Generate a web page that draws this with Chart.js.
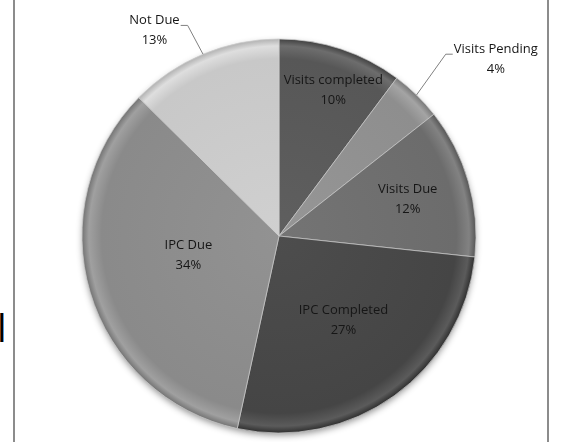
<!DOCTYPE html>
<html>
<head>
<meta charset="utf-8">
<script src="https://cdn.jsdelivr.net/npm/chart.js@4.4.0/dist/chart.umd.min.js"></script>
<style>
  html, body { margin: 0; padding: 0; background: #fff; }
  body { width: 563px; height: 442px; position: relative; overflow: hidden; font-family: "Open Sans", sans-serif; }
  #frame { position: absolute; left: 13px; top: -10px; width: 532px; height: 470px; border: 2px solid #8c8c8c; }
  #cut { position: absolute; left: -3px; top: 305px; font-size: 38px; line-height: 44px; color: #000; }
  canvas { position: absolute; left: 0; top: 0; }
</style>
</head>
<body>
<div id="frame"></div>
<div id="cut">l</div>
<canvas id="pie" width="563" height="442"></canvas>
<script>
const categories = ['Visits completed', 'Visits Pending', 'Visits Due', 'IPC Completed', 'IPC Due', 'Not Due'];
const shares = [10.2, 4.2, 12.3, 26.7, 34, 12.6];

const total = shares.reduce((a, b) => a + b, 0);
const percentLabels = shares.map(v => Math.round(v / total * 100) + '%');

// look
const sliceColors = ['#575757', '#8e8e8e', '#6c6c6c', '#454545', '#8a8a8a', '#c8c8c8'];
const pieRadius = 197;
// where each label sits: [degrees clockwise from 12 o'clock, distance as fraction of radius]
const labelSpots = [[20.4, 0.79], [50.8, 1.42], [73.9, 0.68], [142.7, 0.54], [258.1, 0.47], [328.8, 1.22]];

function shade(hex, amt) {
    let n = parseInt(hex.slice(1), 16);
    let r = Math.min(255, Math.max(0, (n >> 16) + amt));
    let g = Math.min(255, Math.max(0, ((n >> 8) & 255) + amt));
    let b = Math.min(255, Math.max(0, (n & 255) + amt));
    return 'rgb(' + r + ',' + g + ',' + b + ')';
}

const pieShadow = {
    id: 'pieShadow',
    beforeDatasetsDraw(chart) {
        const arc = chart.getDatasetMeta(0).data[0];
        if (!arc) return;
        const ctx = chart.ctx;
        ctx.save();
        ctx.shadowColor = 'rgba(0,0,0,0.45)';
        ctx.shadowBlur = 7;
        ctx.shadowOffsetY = 3;
        ctx.fillStyle = '#666';
        ctx.beginPath();
        ctx.arc(arc.x, arc.y, arc.outerRadius - 1, 0, Math.PI * 2);
        ctx.fill();
        ctx.restore();
    }
};

const pieLabels = {
    id: 'pieLabels',
    afterDatasetsDraw(chart) {
        const ctx = chart.ctx;
        const meta = chart.getDatasetMeta(0);
        ctx.save();
        ctx.font = '13px "Open Sans"';
        ctx.textAlign = 'center';
        ctx.textBaseline = 'middle';
        meta.data.forEach((arc, i) => {
            const p = arc.getProps(['x', 'y', 'outerRadius', 'startAngle', 'endAngle'], true);
            const a = (labelSpots[i][0] - 90) * Math.PI / 180;
            const lx = p.x + Math.cos(a) * p.outerRadius * labelSpots[i][1];
            const ly = p.y + Math.sin(a) * p.outerRadius * labelSpots[i][1];
            ctx.fillStyle = '#161616';
            ctx.fillText(categories[i], lx, ly - 10);
            ctx.fillText(percentLabels[i], lx, ly + 10);
            if (labelSpots[i][1] > 1) {
                const mid = (p.startAngle + p.endAngle) / 2;
                const ex = p.x + Math.cos(mid) * p.outerRadius;
                const ey = p.y + Math.sin(mid) * p.outerRadius;
                const w = ctx.measureText(categories[i]).width;
                const side = ex > lx ? 1 : -1;
                const tx = lx + side * (w / 2 + 1);
                const ty = ly - 10 + 5;
                ctx.strokeStyle = '#808080';
                ctx.lineWidth = 1;
                ctx.beginPath();
                ctx.moveTo(ex, ey);
                ctx.lineTo(tx + side * 7, ty);
                ctx.lineTo(tx, ty);
                ctx.stroke();
            }
        });
        ctx.restore();
    }
};

new Chart(document.getElementById('pie'), {
    type: 'pie',
    data: {
        labels: categories,
        datasets: [
            {
                data: shares,
                radius: pieRadius,
                backgroundColor: (c) => {
                    const base = sliceColors[c.dataIndex];
                    const area = c.chart.chartArea;
                    if (!area) return base;
                    const cx = (area.left + area.right) / 2;
                    const cy = (area.top + area.bottom) / 2;
                    const g = c.chart.ctx.createRadialGradient(cx, cy, 0, cx, cy, pieRadius);
                    g.addColorStop(0, shade(base, 8));
                    g.addColorStop(0.9, base);
                    g.addColorStop(0.965, shade(base, 22));
                    g.addColorStop(1, shade(base, -22));
                    return g;
                },
                borderColor: 'rgba(205,205,205,0.7)',
                borderWidth: 1
            }
        ]
    },
    options: {
        responsive: false,
        animation: false,
        events: [],
        layout: {
            padding: { top: 30, right: 5, bottom: 0, left: 0 }
        },
        plugins: {
            legend: { display: false },
            tooltip: { enabled: false }
        }
    },
    plugins: [pieShadow, pieLabels]
});
</script>
</body>
</html>
